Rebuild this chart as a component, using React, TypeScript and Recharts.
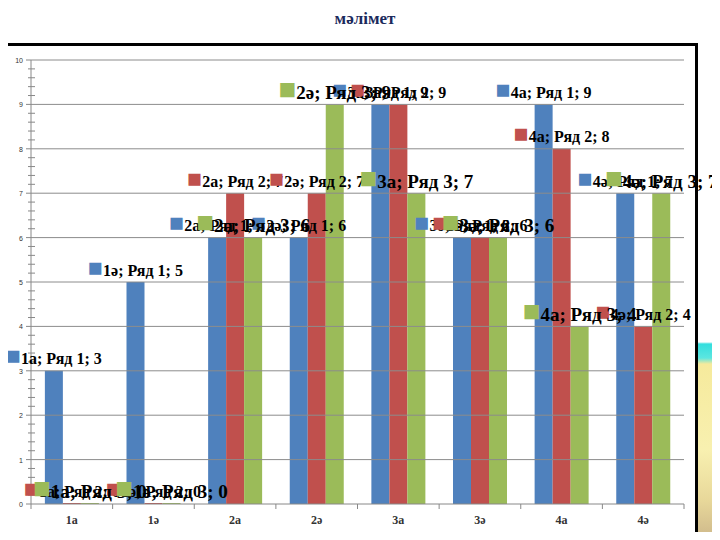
import { Bar, BarChart, LabelList, ReferenceLine, XAxis, YAxis } from 'recharts';

const categories = ['1а', '1ә', '2а', '2ә', '3а', '3ә', '4а', '4ә'];
const seriesNames = ['Ряд 1', 'Ряд 2', 'Ряд 3'];
const ryad1 = [3, 5, 6, 6, 9, 6, 9, 7];
const ryad2 = [0, 0, 7, 7, 9, 6, 8, 4];
const ryad3 = [0, 0, 6, 9, 7, 6, 4, 7];
const yMajorTicks = [0, 1, 2, 3, 4, 5, 6, 7, 8, 9, 10];

const COLORS = ['#4f81bd', '#c0504d', '#9bbb59'];
const PLOT_LEFT = 31;
const PLOT_RIGHT = 684;
const PLOT_TOP = 60;
const PLOT_BOTTOM = 504;
const BAND = (PLOT_RIGHT - PLOT_LEFT) / categories.length;

const data = categories.map((name, i) => ({ name, s1: ryad1[i], s2: ryad2[i], s3: ryad3[i] }));

// minor ticks every 0.2 between the integer ticks
const yTicks: number[] = [];
yMajorTicks.forEach((t, i) => {
  yTicks.push(t);
  if (i < yMajorTicks.length - 1) for (let k = 1; k < 5; k++) yTicks.push(Math.round((t + k * 0.2) * 10) / 10);
});

function YTick(props: any) {
  const { y, payload } = props;
  const major = Number.isInteger(payload.value);
  return (
    <g>
      {major ? (
        <>
          <line x1={PLOT_LEFT - 5} x2={PLOT_LEFT} y1={y} y2={y} stroke="#888" />
          <text x={23} y={y + 3} textAnchor="end" fontSize={7} fill="#333" fontFamily="Liberation Sans">
            {payload.value}
          </text>
        </>
      ) : (
        <line x1={PLOT_LEFT - 3} x2={PLOT_LEFT + 4} y1={y} y2={y} stroke="#888" />
      )}
    </g>
  );
}

function XTick(props: any) {
  const { x, index, payload } = props;
  const left = x - BAND / 2;
  return (
    <g>
      <line x1={left} x2={left} y1={PLOT_BOTTOM} y2={PLOT_BOTTOM + 5} stroke="#888" />
      {index === categories.length - 1 && (
        <line x1={left + BAND} x2={left + BAND} y1={PLOT_BOTTOM} y2={PLOT_BOTTOM + 5} stroke="#888" />
      )}
      <text x={x} y={PLOT_BOTTOM + 20} textAnchor="middle" fontSize={12} fontWeight="bold" fill="#333" fontFamily="Liberation Serif">
        {payload.value}
      </text>
    </g>
  );
}

function makeLabel(s: number) {
  const fs = s === 2 ? 19 : 16;
  return (props: any) => {
    const { x, y, width, value } = props;
    const cx = x + width / 2;
    const idx = Math.min(categories.length - 1, Math.max(0, Math.floor((cx - PLOT_LEFT) / BAND)));
    return (
      <text x={cx} y={y - 12 + fs * 0.35} textAnchor="middle" fontFamily="Liberation Serif" fontWeight="bold" fontSize={fs} fill="#000">
        <tspan fill={COLORS[s]} fontSize={fs * 1.55}>■</tspan>
        <tspan>{`${categories[idx]}; ${seriesNames[s]}; ${value}`}</tspan>
      </text>
    );
  };
}

export default function App() {
  return (
    <div style={{ position: 'relative', width: 720, height: 540, margin: -8, background: '#fff', overflow: 'hidden' }}>
      <div
        style={{
          position: 'absolute',
          left: 696,
          top: 330,
          width: 24,
          height: 210,
          background:
            'linear-gradient(to bottom, #ffffff 0px, #ffffff 12px, #33dede 14px, #5ce6e0 28px, #f6ea9c 34px, #f8f0b0 120px, #e8d89a 170px, #cdb78a 210px)',
        }}
      />
      <div
        style={{
          position: 'absolute',
          top: 9,
          width: 730,
          textAlign: 'center',
          fontFamily: 'Liberation Serif',
          fontWeight: 'bold',
          fontSize: 17,
          color: '#1b2a5c',
        }}
      >
        мәлімет
      </div>
      <div
        style={{
          position: 'absolute',
          left: 0,
          top: 43,
          width: 692,
          height: 491,
          border: '3px solid #000',
        }}
      />
      <div style={{ position: 'absolute', left: 0, top: 0 }}>
        <BarChart
          width={720}
          height={540}
          data={data}
          margin={{ top: PLOT_TOP, right: 720 - PLOT_RIGHT, left: 6, bottom: 16 }}
          barCategoryGap="17%"
          barGap={0}
        >
          {yMajorTicks.slice(1).map(t => (
            <ReferenceLine key={t} y={t} stroke="#8c8c8c" strokeWidth={1} />
          ))}
          <XAxis dataKey="name" interval={0} height={20} stroke="#888" tickLine={false} tick={<XTick />} />
          <YAxis
            width={25}
            domain={[0, 10]}
            ticks={yTicks}
            interval={0}
            stroke="#888"
            tickLine={false}
            tick={<YTick />}
          />
          <Bar dataKey="s1" fill={COLORS[0]} minPointSize={1} isAnimationActive={false}>
            <LabelList dataKey="s1" content={makeLabel(0)} />
          </Bar>
          <Bar dataKey="s2" fill={COLORS[1]} minPointSize={1} isAnimationActive={false}>
            <LabelList dataKey="s2" content={makeLabel(1)} />
          </Bar>
          <Bar dataKey="s3" fill={COLORS[2]} minPointSize={1} isAnimationActive={false}>
            <LabelList dataKey="s3" content={makeLabel(2)} />
          </Bar>
        </BarChart>
      </div>
    </div>
  );
}
